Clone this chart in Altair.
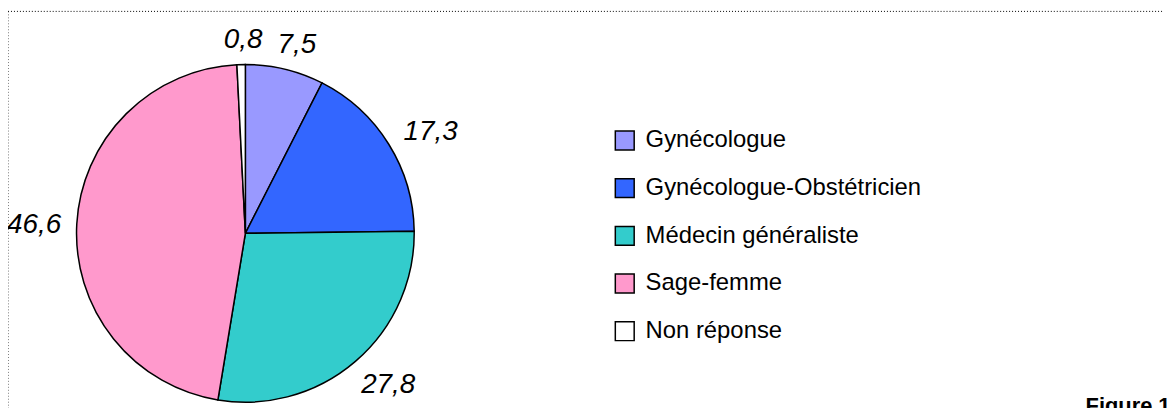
import altair as alt
import pandas as pd

categories = ["Gynécologue", "Gynécologue-Obstétricien", "Médecin généraliste", "Sage-femme", "Non réponse"]
values = [7.5, 17.3, 27.8, 46.6, 0.8]
labels = ["7,5", "17,3", "27,8", "46,6", "0,8"]
colors = ["#9999FF", "#3366FF", "#33CCCC", "#FF99CC", "#FFFFFF"]

df = pd.DataFrame({"cat": categories, "value": values, "label": labels, "order": list(range(len(categories)))})

CX, CY, R = 239, 225.5, 170
FONT = "Liberation Sans"

arcs = alt.Chart(df).mark_arc(outerRadius=R, stroke="black", strokeWidth=1.5).encode(
    theta=alt.Theta("value:Q", stack=True),
    order=alt.Order("order:Q"),
    x=alt.value(CX),
    y=alt.value(CY),
    color=alt.Color(
        "cat:N",
        scale=alt.Scale(domain=categories, range=colors),
        sort=categories,
        legend=alt.Legend(
            orient="none", legendX=609, legendY=120, title=None,
            symbolType="square", symbolSize=361, symbolStrokeColor="black",
            symbolStrokeWidth=1.5, symbolOpacity=1,
            labelFontSize=24, labelFont=FONT, labelColor="black",
            rowPadding=22, labelOffset=9, padding=0, labelLimit=600,
        ),
    ),
)

# label placed just outside the pie, its box pushed outward like a spreadsheet label
text = (
    alt.Chart(df)
    .transform_joinaggregate(total="sum(value)")
    .transform_window(cum="sum(value)", sort=[alt.SortField("order")], frame=[None, 0])
    .transform_calculate(mid="(datum.cum - datum.value/2)/datum.total*2*PI")
    .transform_calculate(
        px="188*sin(datum.mid) + sin(datum.mid)*7*length(datum.label) + 3",
        py="-188*cos(datum.mid) - cos(datum.mid)*10 + 3",
    )
    .transform_calculate(
        ang="atan2(datum.px, -datum.py)",
        lr="sqrt(datum.px*datum.px + datum.py*datum.py)",
    )
    .mark_text(fontSize=28, fontStyle="italic", font=FONT, color="black",
               align="center", baseline="middle")
    .encode(
        theta=alt.Theta("ang:Q", scale=None, stack=None),
        radius=alt.Radius("lr:Q", scale=None),
        x=alt.value(CX),
        y=alt.value(CY),
        text="label:N",
    )
)

one = pd.DataFrame({"t": ["Figure 1"]})
fig = alt.Chart(one).mark_text(align="left", baseline="alphabetic", fontSize=22,
                               fontWeight="bold", font=FONT, color="black").encode(
    x=alt.value(1085), y=alt.value(406), text="t:N")

top = alt.Chart(one).mark_rule(strokeDash=[1, 2], color="black", strokeWidth=1).encode(
    x=alt.value(0), x2=alt.value(1162), y=alt.value(2))
left = alt.Chart(one).mark_rule(strokeDash=[1, 2], color="black", strokeWidth=1).encode(
    x=alt.value(0), y=alt.value(2), y2=alt.value(410))

chart = (
    alt.layer(top, left, arcs, text, fig)
    .resolve_scale(theta="independent")
    .properties(width=1168, height=410, padding=0, autosize="none")
    .configure_view(stroke=None)
)

chart.save("out.html", embed_options={"renderer": "svg", "actions": False})
